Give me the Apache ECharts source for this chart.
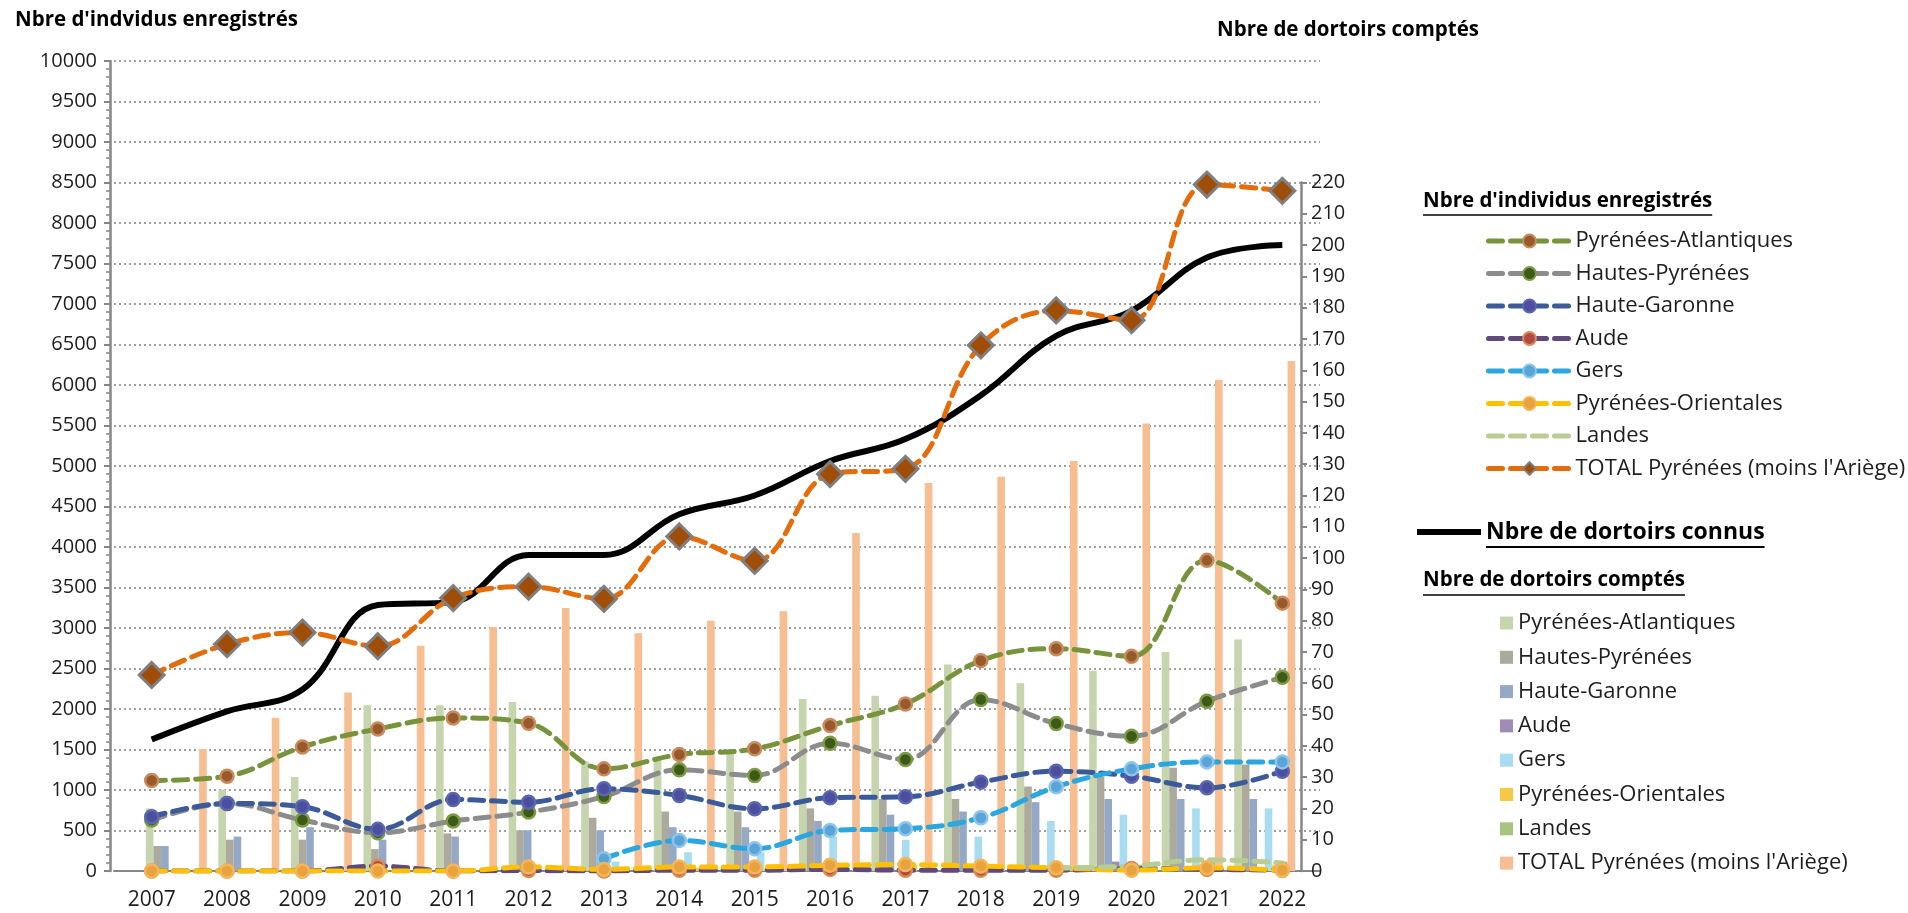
<!DOCTYPE html>
<html><head><meta charset="utf-8">
<script src="https://cdn.jsdelivr.net/npm/echarts@6/dist/echarts.min.js"></script>
<style>html,body{margin:0;padding:0;background:#fff}#c{width:1908px;height:913px}</style>
</head><body><div id="c"></div>
<script>
// ---------- DATA ----------
const years = ['2007','2008','2009','2010','2011','2012','2013','2014','2015','2016','2017','2018','2019','2020','2021','2022'];

// Nbre d'individus enregistrés (left axis)
const indPA     = [1117, 1171, 1532, 1754, 1890, 1824, 1261, 1438, 1508, 1795, 2062, 2597, 2745, 2650, 3835, 3307];
const indHP     = [629, 834, 629, 472, 616, 727, 920, 1249, 1179, 1578, 1376, 2116, 1820, 1664, 2095, 2391];
const indHG     = [670, 834, 793, 514, 883, 850, 1015, 933, 768, 904, 916, 1097, 1232, 1171, 1027, 1232];
const indAude   = [0, 0, 0, 60, 0, 5, 0, 10, 10, 20, 10, 10, 10, 30, 20, 10];
const indGers   = [null, null, null, null, null, null, 152, 378, 275, 501, 522, 657, 1039, 1261, 1347, 1347];
const indPO     = [0, 0, 0, 0, 0, 50, 20, 50, 50, 70, 80, 60, 40, 10, 40, 10];
const indLandes = [null, null, null, null, null, null, null, null, null, null, null, null, 40, 60, 140, 100];
const indTotal  = [2420, 2800, 2944, 2775, 3370, 3510, 3360, 4130, 3829, 4900, 4965, 6490, 6920, 6800, 8475, 8397];

// Nbre de dortoirs connus (right axis scale)
const dortConnus = [42, 51, 58, 85, 86, 101, 101, 114, 120, 131, 138, 152, 171, 179, 196, 200];

// Nbre de dortoirs comptés (right axis)
const dorPA     = [20, 26, 30, 53, 53, 54, 35, 36, 38, 55, 56, 66, 60, 64, 70, 74];
const dorHP     = [8, 10, 10, 7, 12, 13, 17, 19, 19, 20, 23, 23, 27, 30, 33, 34];
const dorHG     = [8, 11, 14, 10, 11, 13, 13, 14, 14, 16, 18, 19, 22, 23, 23, 23];
const dorAude   = [0, 0, 0, 0, 0, 0, 0, 0, 0, 0, 0, 0, 0, 3, 0, 0];
const dorGers   = [0, 0, 0, 0, 0, 0, 3, 6, 6, 11, 10, 11, 16, 18, 20, 20];
const dorPO     = [0, 0, 0, 0, 0, 0, 1, 1, 1, 1, 2, 2, 2, 2, 2, 2];
const dorLandes = [0, 0, 0, 0, 0, 0, 0, 0, 0, 0, 0, 0, 1, 2, 4, 3];
const dorTotal  = [39, 49, 57, 72, 78, 84, 76, 80, 83, 108, 124, 126, 131, 143, 157, 163];

const leftTicks = {min: 0, max: 10000, interval: 500};
const rightTicks = {min: 0, max: 220, interval: 10};

const names = ['Pyrénées-Atlantiques','Hautes-Pyrénées','Haute-Garonne','Aude','Gers','Pyrénées-Orientales','Landes',"TOTAL Pyrénées (moins l'Ariège)"];
const connusName = 'Nbre de dortoirs connus';
const BAR_PREFIX = 'dortoirs|';

// ---------- STYLE ----------
const FONT = '"Open Sans", "Liberation Sans", sans-serif';
const AX = '#868686';
const TXT = '#1e1e1e';
const lineColors = ['#77933c','#8c8c8c','#3a5a99','#604a7b','#2aa6e0','#ffc000','#b8cd93','#e46c0a'];
const markFill   = ['#965a2c','#3d5a16','#4b4f9e','#b04a45','#5aa5d8','#e8a33d',null,'#a04d08'];
const markBorder = ['#c98a5c','#7a9a45','#5a66b0','#d98a55','#8cc4ea','#f5b65a',null,'#7f7f7f'];
const barColors  = ['#c6d5ad','#acaa9c','#95a9c7','#9e8cb7','#a8dcf0','#f7c843','#a7c480','#f6be91'];

const indData = [indPA, indHP, indHG, indAude, indGers, indPO, indLandes, indTotal];
const dorData = [dorPA, dorHP, dorHG, dorAude, dorGers, dorPO, dorLandes, dorTotal];

const series = [];
dorData.forEach((d, i) => {
  series.push({
    name: BAR_PREFIX + names[i], type: 'bar', xAxisIndex: 1, yAxisIndex: 1,
    data: d, barGap: '0%', barCategoryGap: '16%', z: 1,
    itemStyle: {color: barColors[i]}, emphasis: {disabled: true}
  });
});
series.push({
  name: connusName, type: 'line', xAxisIndex: 0, yAxisIndex: 2, data: dortConnus,
  smooth: 0.4, symbol: 'none', z: 3,
  lineStyle: {color: '#000', width: 6}, itemStyle: {color: '#000'}
});
indData.forEach((d, i) => {
  const isTotal = i === 7;
  const isLandes = i === 6;
  series.push({
    name: names[i], type: 'line', xAxisIndex: 0, yAxisIndex: 0, data: d,
    smooth: 0.38, z: isTotal ? 4 : 3,
    symbol: isLandes ? 'none' : (isTotal ? 'diamond' : 'circle'),
    symbolSize: isTotal ? 25 : 13,
    showSymbol: true,
    lineStyle: {color: lineColors[i], width: 5, type: [14, 8], cap: 'round'},
    itemStyle: isLandes ? {color: lineColors[i]} : {color: markFill[i], borderColor: markBorder[i], borderWidth: isTotal ? 3 : 2.5}
  });
});

function textW(txt, font) {
  const c = document.createElement('canvas').getContext('2d');
  c.font = font; return c.measureText(txt).width;
}
const hdr1 = "Nbre d'individus enregistrés";
const hdr3 = 'Nbre de dortoirs comptés';
const hdrFont = 'bold 20.5px ' + FONT;
const connusFont = 'bold 23px ' + FONT;
const w1 = textW(hdr1, hdrFont), w3 = textW(hdr3, hdrFont);
const wB = textW(connusName, connusFont);

const lineLegendData = names.map((n, i) => i === 6 ? {name: n, itemStyle: {opacity: 0}} : {name: n});

const chart = echarts.init(document.getElementById('c'), null, {renderer: 'canvas'});
chart.setOption({
  animation: false,
  backgroundColor: '#fff',
  textStyle: {fontFamily: FONT},
  grid: [
    {left: 114, right: 588, top: 61, bottom: 42, containLabel: false},
    {left: 140, right: 607, top: 182.5, bottom: 42, containLabel: false}
  ],
  xAxis: [
    {type: 'category', gridIndex: 0, data: years, boundaryGap: true,
     axisLine: {lineStyle: {color: AX, width: 2}}, axisTick: {show: false},
     axisLabel: {color: TXT, fontSize: 21, margin: 19, fontFamily: FONT}},
    {type: 'category', gridIndex: 1, data: years, boundaryGap: true, show: false}
  ],
  yAxis: [
    {type: 'value', gridIndex: 0, position: 'left', offset: 4,
     min: leftTicks.min, max: leftTicks.max, interval: leftTicks.interval,
     axisLine: {show: true, lineStyle: {color: AX, width: 2.5}},
     axisTick: {show: true, length: 6, lineStyle: {color: AX, width: 2}},
     minorTick: {show: true, splitNumber: 5, length: 4, lineStyle: {color: AX, width: 1.5}},
     axisLabel: {color: TXT, fontSize: 20, margin: 13, fontFamily: FONT, formatter: v => String(v)},
     splitLine: {show: true, lineStyle: {color: '#a0a0a0', type: [2, 3], width: 2}}},
    {type: 'value', gridIndex: 1, position: 'right',
     min: rightTicks.min, max: rightTicks.max, interval: rightTicks.interval,
     axisLine: {show: true, lineStyle: {color: AX, width: 2.5}},
     axisTick: {show: true, length: 6, lineStyle: {color: AX, width: 2}},
     axisLabel: {color: TXT, fontSize: 20, margin: 10, fontFamily: FONT},
     splitLine: {show: false}},
    {type: 'value', gridIndex: 0, show: false, min: 0,
     max: rightTicks.max * leftTicks.max / 8500, splitLine: {show: false}}
  ],
  legend: [
    {data: lineLegendData, orient: 'vertical', left: 1486, top: 229, padding: 0,
     itemWidth: 82, itemHeight: 16, itemGap: 8.5, selectedMode: false,
     lineStyle: {width: 5},
     textStyle: {fontSize: 22, color: TXT, fontFamily: FONT, lineHeight: 24}},
    {data: [{name: connusName, icon: 'rect'}], orient: 'vertical', left: 1417, top: 518, padding: 0,
     itemWidth: 64, itemHeight: 6, selectedMode: false,
     textStyle: {fontSize: 23, fontWeight: 'bold', color: '#000', fontFamily: FONT, lineHeight: 28}},
    {data: names.map(n => ({name: BAR_PREFIX + n, icon: 'rect'})), orient: 'vertical', left: 1500, top: 611, padding: 0,
     itemWidth: 13, itemHeight: 13, itemGap: 10.3, selectedMode: false,
     formatter: n => n.replace(BAR_PREFIX, ''),
     textStyle: {fontSize: 22, color: TXT, fontFamily: FONT, lineHeight: 24}}
  ],
  graphic: [
    {type: 'text', left: 15, top: 10, style: {text: "Nbre d'indvidus enregistrés", font: hdrFont, fill: '#000'}},
    {type: 'text', left: 1217, top: 20, style: {text: 'Nbre de dortoirs comptés', font: hdrFont, fill: '#000'}},
    {type: 'text', left: 1423, top: 191, style: {text: hdr1, font: hdrFont, fill: '#000'}},
    {type: 'line', shape: {x1: 1423, y1: 215, x2: 1423 + w1, y2: 215}, style: {stroke: '#000', lineWidth: 1.5}},
    {type: 'text', left: 1423, top: 570, style: {text: hdr3, font: hdrFont, fill: '#000'}},
    {type: 'line', shape: {x1: 1423, y1: 595, x2: 1423 + w3, y2: 595}, style: {stroke: '#000', lineWidth: 1.5}},
    {type: 'line', shape: {x1: 1486, y1: 547, x2: 1486 + wB, y2: 547}, style: {stroke: '#000', lineWidth: 2}}
  ],
  series: series
});
</script>
</body></html>
